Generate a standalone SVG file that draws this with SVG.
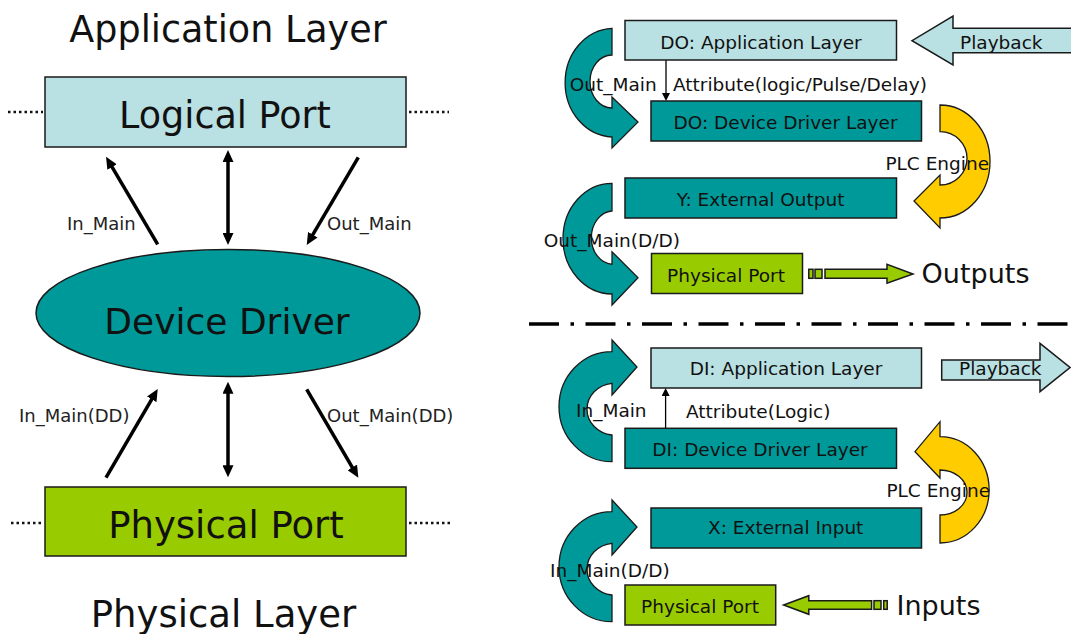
<svg xmlns="http://www.w3.org/2000/svg" width="1071" height="634" viewBox="0 0 1071 634">
<style>
text{font-family:"DejaVu Sans","Liberation Sans",sans-serif;fill:#111}
.big{font-size:36.5px}
.lbl{font-size:18px;fill:#222}
.sm{font-size:18.5px}
.mid{text-anchor:middle}
.lb{fill:#B9E0E2;stroke:#1a1a1a;stroke-width:1.5}
.tl{fill:#009999;stroke:#1a1a1a;stroke-width:1.5}
.gr{fill:#99CC00;stroke:#1a1a1a;stroke-width:1.5}
.ye{fill:#FFCC00;stroke:#1a1a1a;stroke-width:1.3}
.cur{fill:#009999;stroke:#1a1a1a;stroke-width:1.3}
.thick{stroke:#000;stroke-width:3.5;fill:none}
.thin{stroke:#000;stroke-width:1.3;fill:none}
.dots{stroke:#111;stroke-width:2.5;stroke-dasharray:2.5 3;fill:none}
</style>
<defs>
<marker id="ah" markerUnits="userSpaceOnUse" markerWidth="12" markerHeight="11" refX="2" refY="5.5" orient="auto-start-reverse">
<path d="M0,0 L12,5.5 L0,11 Z" fill="#000"/>
</marker>
<marker id="ahs" markerUnits="userSpaceOnUse" markerWidth="8" markerHeight="8" refX="1" refY="4" orient="auto">
<path d="M0,0 L8,4 L0,8 Z" fill="#000"/>
</marker>
</defs>
<rect width="1071" height="634" fill="#fff"/>

<!-- Left diagram -->
<text class="big mid" x="228" y="42">Application Layer</text>
<g id="logical-port">
<rect class="lb" x="45" y="77" width="361" height="70"/>
<text class="big mid" x="225" y="128">Logical Port</text>
</g>
<line class="dots" x1="8" y1="112" x2="43" y2="112"/>
<line class="dots" x1="409" y1="112" x2="449" y2="112"/>
<g id="device-driver">
<ellipse cx="228" cy="313" rx="192" ry="63.5" fill="#009999" stroke="#1a1a1a" stroke-width="1.5"/>
<text class="mid" x="227" y="334" style="font-size:36px">Device Driver</text>
</g>
<g id="physical-port-left">
<rect class="gr" x="45" y="487" width="361" height="69"/>
<text class="mid" x="226" y="538" style="font-size:37px">Physical Port</text>
</g>
<line class="dots" x1="11" y1="523" x2="44" y2="523"/>
<line class="dots" x1="409" y1="523" x2="452" y2="523"/>
<text class="mid" x="223.5" y="627" style="font-size:37px">Physical Layer</text>

<g id="connectors">
<line class="thick" x1="157.7" y1="244.3" x2="111.1" y2="165.3" marker-end="url(#ah)"/>
<line class="thick" x1="228" y1="160" x2="228" y2="235" marker-start="url(#ah)" marker-end="url(#ah)"/>
<line class="thick" x1="358.3" y1="157.3" x2="311.8" y2="236.4" marker-end="url(#ah)"/>
<line class="thick" x1="106" y1="477.7" x2="152.7" y2="397.6" marker-end="url(#ah)"/>
<line class="thick" x1="228" y1="391.7" x2="228" y2="467.3" marker-start="url(#ah)" marker-end="url(#ah)"/>
<line class="thick" x1="306.7" y1="389.3" x2="353.3" y2="469.1" marker-end="url(#ah)"/>

<!-- right side thin arrows -->
<line class="thin" x1="666" y1="60" x2="666" y2="94" marker-end="url(#ahs)"/>
<line class="thin" x1="665.6" y1="428" x2="665.6" y2="395" marker-end="url(#ahs)"/>

<!-- curved arrows -->
<path id="curve-out-main" class="cur" d="M612,28.3 A49,54.4 0 0 0 612,137 L612,148 L638,122 L612,97 L612,108 A22,26.5 0 0 1 612,55 Z"/>
<path id="curve-out-main-dd" class="cur" d="M612,183.3 A49,55.3 0 0 0 612,294 L612,305 L638,277.7 L612,251.7 L612,264.3 A22,26.7 0 0 1 612,211 Z"/>
<path id="curve-in-main" class="cur" d="M612,461.7 A53,55 0 0 1 612,351.7 L612,340 L637,367 L612,395 L612,383.3 A28,26 0 0 0 612,435 Z"/>
<path id="curve-in-main-dd" class="cur" d="M612,621.7 A53,55 0 0 1 612,511.7 L612,500 L637,527 L612,555 L612,543.3 A28,26 0 0 0 612,595 Z"/>
<path id="plc-engine-out" class="ye" d="M940,105 A50,56.5 0 0 1 940,218 L940,228 L914,201 L940,175 L940,185 A27,26.6 0 0 0 940,131.7 Z"/>
<path id="plc-engine-in" class="ye" d="M940,543 A49,53 0 0 0 940,436.7 L940,421.7 L915,451.7 L940,478 L940,470 A27,22.5 0 0 1 940,515 Z"/>

<!-- block arrows -->
<path id="playback-do" class="lb" d="M1075,28.3 L953,28.3 L953,16 L912,40.7 L953,65 L953,52.7 L1075,52.7 Z"/>
<path id="playback-di" class="lb" d="M941.7,360 L1040,360 L1040,343.3 L1070,367.5 L1040,391.7 L1040,380 L941.7,380 Z"/>
<g id="outputs-arrow">
<rect class="gr" x="808.8" y="269.3" width="4.2" height="9" stroke-width="1.2"/>
<rect class="gr" x="815" y="269.3" width="7" height="9" stroke-width="1.2"/>
<path class="gr" stroke-width="1.2" d="M825,269.3 L887,269.3 L887,264.3 L913,274 L887,283.3 L887,278.3 L825,278.3 Z"/>
</g>
<g id="inputs-arrow">
<rect class="gr" x="874" y="600.7" width="7" height="8.6" stroke-width="1.2"/>
<rect class="gr" x="883.7" y="600.7" width="3.5" height="8.6" stroke-width="1.2"/>
<path class="gr" stroke-width="1.2" d="M871.6,600.7 L808.8,600.7 L808.8,595.7 L783.6,605 L808.8,614.3 L808.8,609.3 L871.6,609.3 Z"/>
</g>
<line x1="529" y1="324" x2="1071" y2="324" stroke="#000" stroke-width="3.5" stroke-dasharray="30 11.5 3.5 11.5"/>
</g>

<!-- left labels -->
<text class="lbl" x="67" y="230">In_Main</text>
<text class="lbl" x="327" y="230">Out_Main</text>
<text class="lbl" x="19" y="422">In_Main(DD)</text>
<text class="lbl" x="327" y="422">Out_Main(DD)</text>

<!-- right nodes -->
<g id="do-app">
<rect class="lb" x="625" y="20.5" width="271.5" height="39.5"/>
<text class="sm mid" x="761" y="49">DO: Application Layer</text>
</g>
<g id="do-dd">
<rect class="tl" x="651" y="101" width="270.5" height="40"/>
<text class="sm mid" x="785.5" y="129.3">DO: Device Driver Layer</text>
</g>
<g id="y-ext-out">
<rect class="tl" x="625" y="178" width="271.5" height="40"/>
<text class="sm mid" x="760.6" y="205.7">Y: External Output</text>
</g>
<g id="phys-port-out">
<rect class="gr" x="651.5" y="253.5" width="151" height="40"/>
<text class="sm mid" x="726" y="281.7">Physical Port</text>
</g>
<g id="di-app">
<rect class="lb" x="651" y="348" width="270.5" height="40"/>
<text class="sm mid" x="786" y="375">DI: Application Layer</text>
</g>
<g id="di-dd">
<rect class="tl" x="625" y="428.3" width="271.5" height="40"/>
<text class="sm mid" x="760" y="456">DI: Device Driver Layer</text>
</g>
<g id="x-ext-in">
<rect class="tl" x="651" y="508" width="270.5" height="40"/>
<text class="sm mid" x="785.7" y="534.3">X: External Input</text>
</g>
<g id="phys-port-in">
<rect class="gr" x="625" y="585" width="150.7" height="40"/>
<text class="sm mid" x="700" y="612.7">Physical Port</text>
</g>

<!-- right labels -->
<text class="sm" x="960" y="49.3">Playback</text>
<text class="sm" x="569.7" y="90.7">Out_Main</text>
<text class="sm" x="673" y="91">Attribute(logic/Pulse/Delay)</text>
<text class="sm" x="885.4" y="170">PLC Engine</text>
<text class="sm" x="543.8" y="246.7">Out_Main(D/D)</text>
<text x="921.6" y="283.3" style="font-size:27px">Outputs</text>
<text class="sm" x="959" y="375">Playback</text>
<text class="sm" x="576" y="416.7">In_Main</text>
<text class="sm" x="686" y="418.3">Attribute(Logic)</text>
<text class="sm" x="886.4" y="497.3">PLC Engine</text>
<text class="sm" x="550" y="576.7">In_Main(D/D)</text>
<text x="896.5" y="615" style="font-size:27px">Inputs</text>
</svg>
